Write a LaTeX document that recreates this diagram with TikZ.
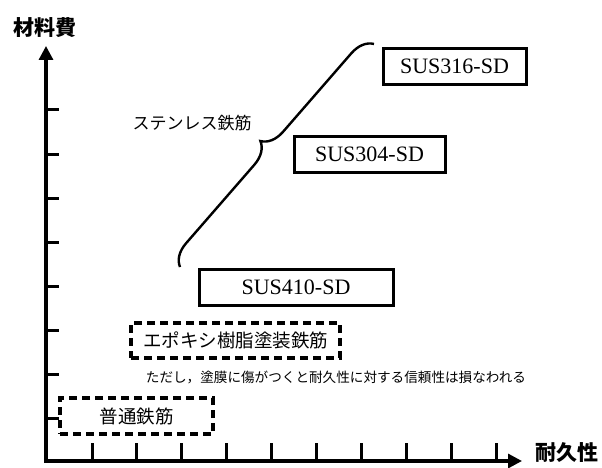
\documentclass[tikz,border=0pt]{standalone}
\usepackage{fontspec}
\newfontfamily\jp{Noto Sans CJK JP}
\newfontfamily\lat{Liberation Serif}
\usetikzlibrary{arrows.meta,decorations.pathreplacing}
\tikzset{
  solidbox/.style={draw, line width=3pt, inner sep=0pt, minimum height=36pt, font=\lat\fontsize{22}{22}\selectfont},
  dashbox/.style={draw, line width=3.2pt, dash pattern=on 8pt off 5pt, inner sep=0pt, minimum height=35pt, font=\jp\fontsize{18.5}{19}\selectfont},
  axisline/.style={line width=3.2pt, -{Triangle[length=14pt,width=14pt]}},
  tickline/.style={line width=3pt},
  axislabel/.style={font=\jp\bfseries\fontsize{21}{21}\selectfont, inner sep=0pt},
}
\begin{document}
\begin{tikzpicture}[x=1pt,y=-1pt]
\useasboundingbox (0,0) rectangle (602,468);
\coordinate (O) at (46,461);
\coordinate (ytip) at (46,46);
\coordinate (xtip) at (522,461);
% ticks
\foreach \k in {0,...,9}{
  \coordinate (xt\k) at ({92+44.9*\k},461);
  \coordinate (xu\k) at ({92+44.9*\k},443);
  \draw[tickline] (xt\k) -- (xu\k);
}
\foreach \k in {0,...,7}{
  \coordinate (yt\k) at (46,{110+44.1*\k});
  \coordinate (yu\k) at (59,{110+44.1*\k});
  \draw[tickline] (yt\k) -- (yu\k);
}
\draw[axisline] ([xshift=-1.6pt]O) -- (xtip);
\draw[axisline] ([yshift=-1.6pt]O) -- (ytip);
\node[axislabel] (ylab) at (45,28) {材料費};
\node[axislabel] (xlab) at (567,453) {耐久性};
% boxes
\node[solidbox, minimum width=143pt] (s316) at (454.5,66.5) {SUS316-SD};
\node[solidbox, minimum width=151pt] (s304) at (369.5,154.5) {SUS304-SD};
\node[solidbox, minimum width=194pt] (s410) at (296,287.5) {SUS410-SD};
\node[dashbox, minimum width=209pt] (epoxy) at (235.5,340.5) {エポキシ樹脂塗装鉄筋};
\node[dashbox, minimum width=153pt, minimum height=36pt] (futsu) at (136.5,416) {普通鉄筋};
\node[font=\jp\fontsize{13.6}{14}\selectfont, inner sep=0pt] (note) at (336,377) {ただし，塗膜に傷がつくと耐久性に対する信頼性は損なわれる};
% brace
\coordinate (bA) at (180,267);
\coordinate (bB) at (374,44);
\draw[line width=2.4pt, decorate, decoration={brace, amplitude=22pt, aspect=0.5}] (bA) -- (bB);
\node[font=\jp\fontsize{17}{17}\selectfont, inner sep=0pt] (stl) at (192,123) {ステンレス鉄筋};
\end{tikzpicture}
\end{document}
